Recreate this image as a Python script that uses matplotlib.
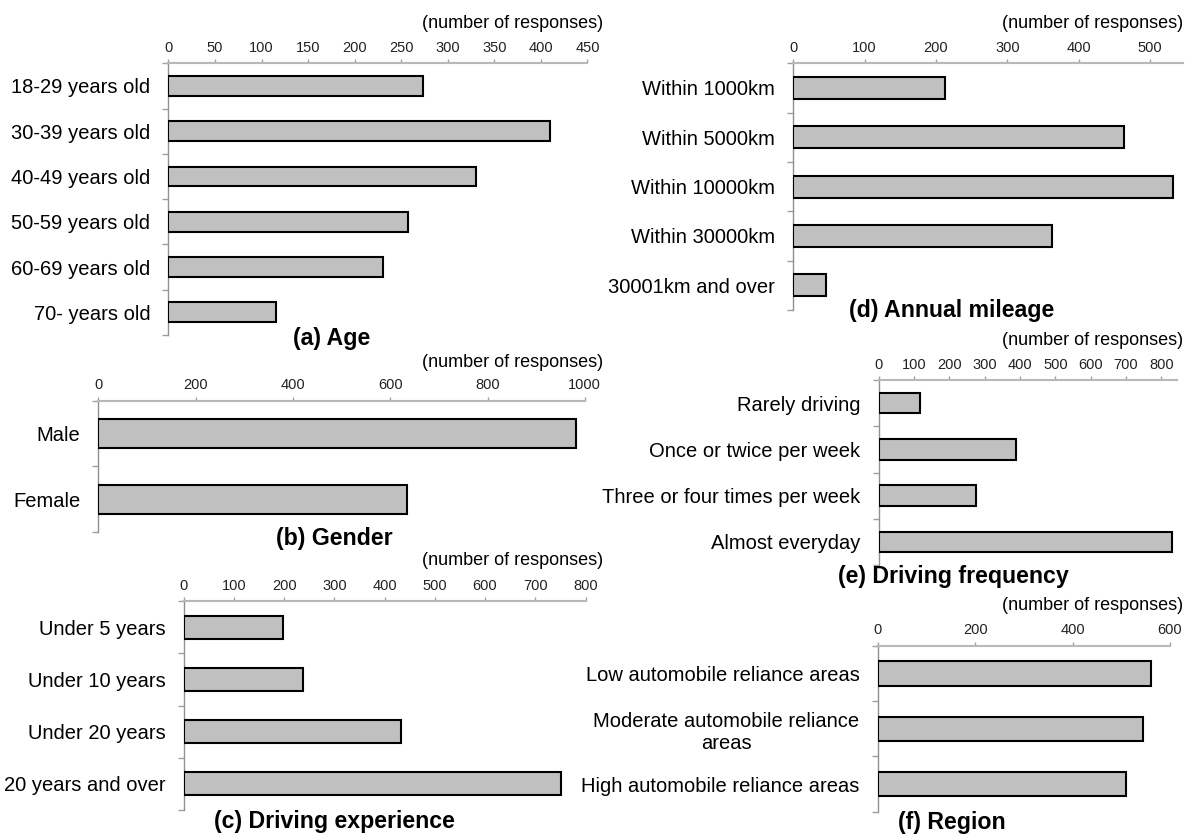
import matplotlib
matplotlib.use("Agg")
import matplotlib.pyplot as plt
import numpy as np

plt.rcParams['font.family'] = ['Liberation Sans', 'DejaVu Sans']

age_labels = ['18-29 years old', '30-39 years old', '40-49 years old',
              '50-59 years old', '60-69 years old', '70- years old']
age_counts = [273, 410, 330, 257, 230, 116]

gender_labels = ['Male', 'Female']
gender_counts = [981, 635]

exp_labels = ['Under 5 years', 'Under 10 years', 'Under 20 years', '20 years and over']
exp_counts = [197, 237, 433, 751]

mileage_labels = ['Within 1000km', 'Within 5000km', 'Within 10000km',
                  'Within 30000km', '30001km and over']
mileage_counts = [213, 464, 532, 362, 46]

freq_labels = ['Rarely driving', 'Once or twice per week',
               'Three or four times per week', 'Almost everyday']
freq_counts = [117, 390, 277, 831]

region_labels = ['Low automobile reliance areas',
                 'Moderate automobile reliance\nareas',
                 'High automobile reliance areas']
region_counts = [562, 545, 510]

W, H = 1186, 834
fig = plt.figure(figsize=(W / 100, H / 100), dpi=100)


def px_axes(left, right, top, bottom):
    return fig.add_axes([left / W, 1 - bottom / H, (right - left) / W, (bottom - top) / H])


def panel(box, labels, counts, xmax, xticks, title, title_pos, unit_pos):
    ax = px_axes(*box)
    n = len(labels)
    y = np.arange(1, n + 1)
    ax.barh(y, counts, height=0.44, color='#c0c0c0', edgecolor='black', linewidth=1.5, zorder=3)
    ax.set_xlim(0, xmax)
    ax.set_ylim(n + 0.5, 0.5)
    ax.xaxis.tick_top()
    ax.set_xticks(xticks)
    ax.tick_params(axis='x', direction='out', length=3, width=1, color='#a0a0a0',
                   labelsize=10.5, pad=3, labelcolor='#222222')
    ax.set_yticks(y)
    ax.set_yticklabels(labels)
    ax.set_yticks(np.arange(0.5, n + 1), minor=True)
    ax.tick_params(axis='y', which='major', length=0, labelsize=14.5, pad=13)
    ax.tick_params(axis='y', which='minor', direction='out', length=4.5, width=1, color='#a0a0a0')
    for lab in ax.get_yticklabels():
        lab.set_multialignment('center')
    for s in ['right', 'bottom']:
        ax.spines[s].set_visible(False)
    ax.spines['top'].set_color('#b8b8b8')
    ax.spines['top'].set_linewidth(1.5)
    ax.spines['left'].set_color('#909090')
    ax.spines['left'].set_linewidth(1)
    fig.text(title_pos[0] / W, 1 - title_pos[1] / H, title, ha='center', va='center',
             fontsize=16.7, fontweight='bold')
    fig.text(unit_pos[0] / W, 1 - unit_pos[1] / H, '(number of responses)', ha='right',
             va='center', fontsize=13)
    return ax


panel((168.4, 587.4, 63.3, 335), age_labels, age_counts, 450, np.arange(0, 451, 50),
      '(a) Age', (332, 339), (603, 23))
panel((98.4, 584.8, 400.7, 532.3), gender_labels, gender_counts, 1000, np.arange(0, 1001, 200),
      '(b) Gender', (334, 539), (603, 362.7))
panel((183.7, 585.5, 601.3, 810), exp_labels, exp_counts, 800, np.arange(0, 801, 100),
      '(c) Driving experience', (334, 821.7), (603, 560.7))
panel((793.1, 1183, 63.3, 310), mileage_labels, mileage_counts, 546, np.arange(0, 501, 100),
      '(d) Annual mileage', (952, 310), (1183, 23))
panel((878.6, 1177.2, 380, 565), freq_labels, freq_counts, 845, np.arange(0, 801, 100),
      '(e) Driving frequency', (953, 576.7), (1183, 340.7))
panel((877.6, 1170, 645.7, 811.7), region_labels, region_counts, 600, np.arange(0, 601, 200),
      '(f) Region', (952, 823), (1183, 606))

fig.savefig('out.png', dpi=100)
